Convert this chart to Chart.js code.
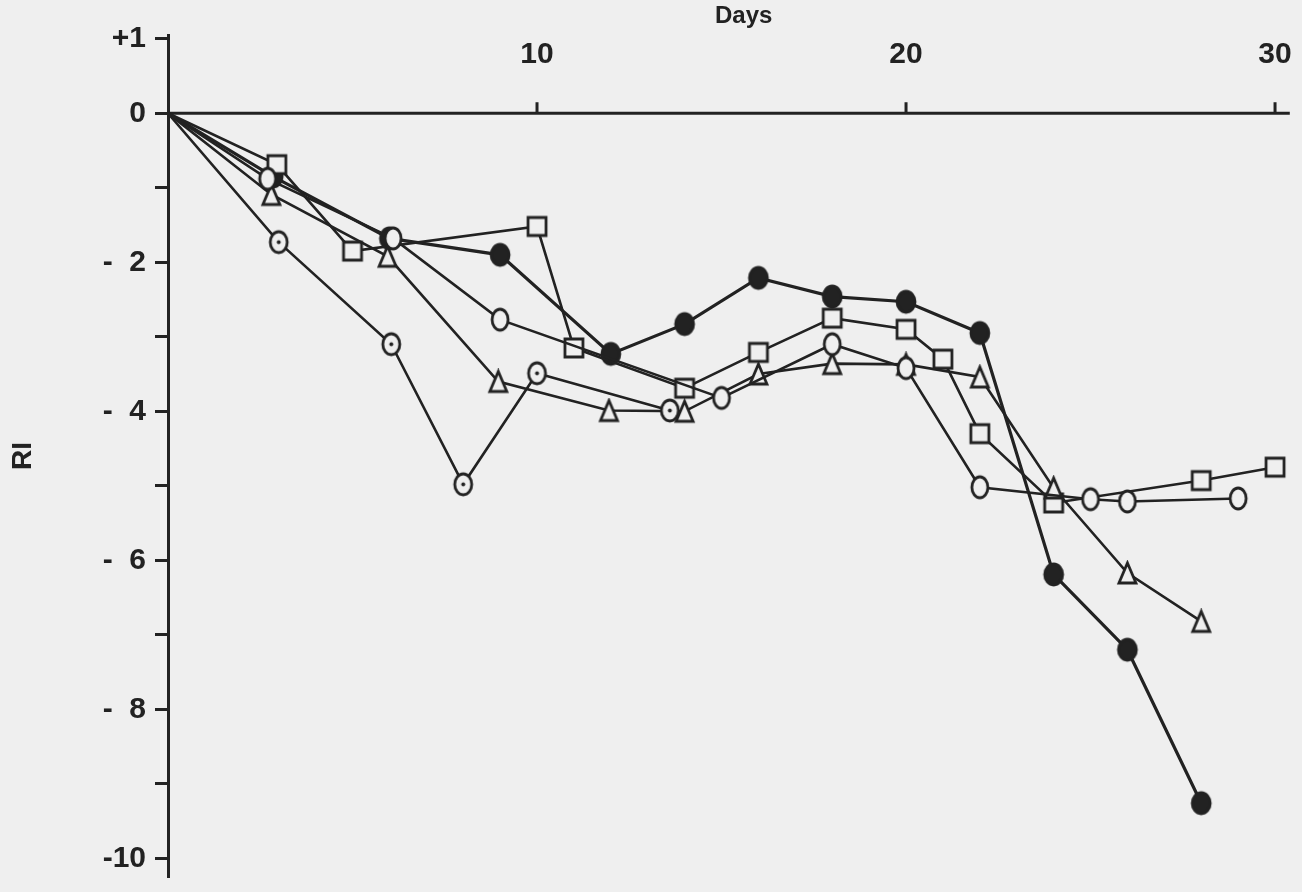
<!DOCTYPE html>
<html>
<head>
<meta charset="utf-8">
<script src="https://cdn.jsdelivr.net/npm/chart.js@4.4.0/dist/chart.umd.min.js"></script>
<style>
  html, body { margin: 0; padding: 0; background: #efefef; }
  canvas { display: block; }
</style>
</head>
<body>
<canvas id="chart" width="1302" height="892"></canvas>
<script>
// values (days, RI)
const filledDays = [0, 2.85, 6, 9, 12, 14, 16, 18, 20, 22, 24, 26, 28];
const filledRI = [0, -0.85, -1.68, -1.9, -3.23, -2.83, -2.21, -2.46, -2.53, -2.95, -6.19, -7.2, -9.26];

const squareDays = [0, 2.95, 5, 10, 11, 14, 16, 18, 20, 21, 22, 24, 28, 30];
const squareRI = [0, -0.69, -1.85, -1.52, -3.15, -3.69, -3.21, -2.75, -2.9, -3.3, -4.3, -5.23, -4.93, -4.75];

const triangleDays = [0, 2.8, 5.95, 8.95, 11.95, 14, 16, 18, 20, 22, 24, 26, 28];
const triangleRI = [0, -1.09, -1.92, -3.6, -3.99, -4.0, -3.5, -3.36, -3.37, -3.54, -5.03, -6.17, -6.82];

const openDays = [0, 2.7, 6.1, 9, 15, 18, 20, 22, 25, 26, 29];
const openRI = [0, -0.88, -1.68, -2.77, -3.82, -3.1, -3.42, -5.02, -5.18, -5.21, -5.17];

const dottedDays = [0, 3, 6.05, 8, 10, 13.6];
const dottedRI = [0, -1.73, -3.1, -4.98, -3.49, -3.99];

const xTicks = [10, 20, 30];

const ink = '#222222';
const paper = '#efefef';
const labelFont = 'bold 30px "Liberation Sans", sans-serif';

function toPoints(days, values) {
    return days.map((d, i) => ({ x: d, y: values[i] }));
}

function markerCanvas(w, h, draw) {
    const c = document.createElement('canvas');
    c.width = w + 6;
    c.height = h + 6;
    const g = c.getContext('2d');
    g.lineWidth = 2.8;
    g.strokeStyle = ink;
    g.fillStyle = paper;
    draw(g, c.width / 2, c.height / 2);
    return c;
}

function makeEllipse(w, h, filled, dot) {
    return markerCanvas(w, h, (g, cx, cy) => {
        g.beginPath();
        g.ellipse(cx, cy, w / 2, h / 2, 0, 0, Math.PI * 2);
        if (filled) g.fillStyle = ink;
        g.fill();
        g.stroke();
        if (dot) {
            g.beginPath();
            g.arc(cx, cy, 2, 0, Math.PI * 2);
            g.fillStyle = ink;
            g.fill();
        }
    });
}

function makeTriangle(w, h) {
    return markerCanvas(w, h, (g, cx, cy) => {
        g.beginPath();
        g.moveTo(cx, cy - h / 2);
        g.lineTo(cx + w / 2, cy + h / 2);
        g.lineTo(cx - w / 2, cy + h / 2);
        g.closePath();
        g.fill();
        g.stroke();
    });
}

function makeSquare(s) {
    return markerCanvas(s, s, (g, cx, cy) => {
        g.beginPath();
        g.rect(cx - s / 2, cy - s / 2, s, s);
        g.fill();
        g.stroke();
    });
}

const filledMark = makeEllipse(18, 21, true, false);
const openMark = makeEllipse(16, 21, false, false);
const dottedMark = makeEllipse(17, 21, false, true);
const triangleMark = makeTriangle(17, 20);
const squareMark = makeSquare(18);

function series(days, values, mark, width) {
    return {
        data: toPoints(days, values),
        borderColor: ink,
        borderWidth: width,
        backgroundColor: paper,
        pointStyle: mark,
        pointRadius: ctx => ctx.dataIndex === 0 ? 0 : 9,
        tension: 0,
        fill: false
    };
}

const paperBackground = {
    id: 'paperBackground',
    beforeDraw(chart) {
        const ctx = chart.ctx;
        ctx.save();
        ctx.fillStyle = paper;
        ctx.fillRect(0, 0, chart.width, chart.height);
        ctx.restore();
    }
};

// x axis sits on the RI = 0 line, ticks and labels above it
const zeroAxis = {
    id: 'zeroAxis',
    beforeDatasetsDraw(chart) {
        const { ctx, chartArea, scales } = chart;
        const y0 = scales.y.getPixelForValue(0);
        ctx.save();
        ctx.strokeStyle = ink;
        ctx.lineWidth = 3;
        ctx.beginPath();
        ctx.moveTo(chartArea.left, y0);
        ctx.lineTo(chartArea.right, y0);
        ctx.stroke();

        ctx.fillStyle = ink;
        ctx.font = labelFont;
        ctx.textAlign = 'center';
        ctx.textBaseline = 'alphabetic';
        xTicks.forEach(t => {
            const x = scales.x.getPixelForValue(t);
            ctx.beginPath();
            ctx.moveTo(x, y0);
            ctx.lineTo(x, y0 - 11);
            ctx.stroke();
            ctx.fillText(String(t), x, y0 - 50);
        });

        ctx.font = 'bold 24px "Liberation Sans", sans-serif';
        ctx.textBaseline = 'top';
        ctx.fillText('Days', scales.x.getPixelForValue(15.6), 4);
        ctx.restore();
    }
};

new Chart(document.getElementById('chart'), {
    type: 'line',
    data: {
        datasets: [
            series(dottedDays, dottedRI, dottedMark, 2.6),
            series(openDays, openRI, openMark, 2.6),
            series(triangleDays, triangleRI, triangleMark, 2.6),
            series(squareDays, squareRI, squareMark, 2.6),
            series(filledDays, filledRI, filledMark, 3.2)
        ]
    },
    options: {
        responsive: false,
        animation: false,
        layout: { padding: { top: 35, right: 12, bottom: 15, left: 0 } },
        plugins: {
            legend: { display: false },
            tooltip: { enabled: false }
        },
        scales: {
            x: {
                type: 'linear',
                min: 0,
                max: 30.4,
                display: false
            },
            y: {
                min: -10.25,
                max: 1.05,
                afterFit: scale => {
                    scale.width = 168;
                    scale.paddingTop = 0;
                    scale.paddingBottom = 0;
                },
                border: { display: true, width: 3, color: ink },
                grid: {
                    drawOnChartArea: false,
                    drawTicks: true,
                    tickLength: 13,
                    tickWidth: 3,
                    tickColor: ink
                },
                ticks: {
                    stepSize: 1,
                    includeBounds: false,
                    autoSkip: false,
                    padding: 9,
                    color: ink,
                    font: { family: '"Liberation Sans", sans-serif', size: 30, weight: 'bold' },
                    callback: v => {
                        if (v === 1) return '+1';
                        if (v === 0) return '0';
                        if (v === -10) return '-10';
                        if (v % 2 !== 0) return '';
                        return '-  ' + Math.abs(v);
                    }
                },
                title: {
                    display: true,
                    text: 'RI',
                    color: ink,
                    font: { family: '"Liberation Sans", sans-serif', size: 28, weight: 'bold' },
                    padding: { top: 6, bottom: 0 }
                }
            }
        }
    },
    plugins: [paperBackground, zeroAxis]
});
</script>
</body>
</html>
